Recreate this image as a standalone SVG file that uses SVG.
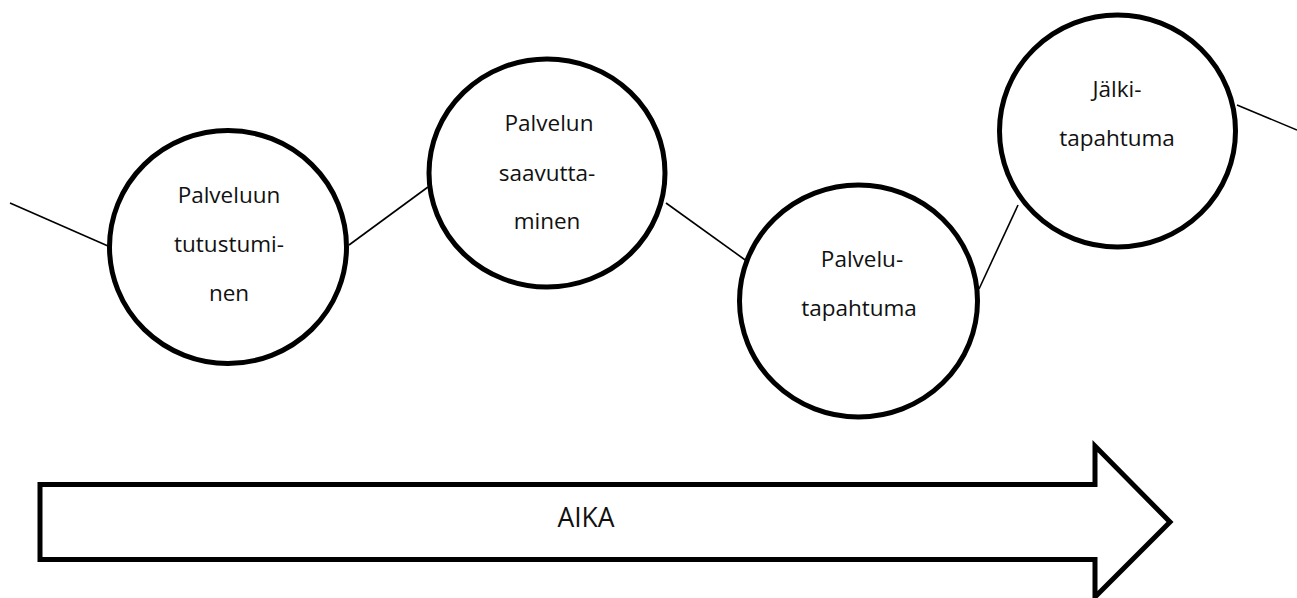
<svg xmlns="http://www.w3.org/2000/svg" width="1297" height="598" viewBox="0 0 1297 598">
<style>
.node{fill:#fff;stroke:#000;stroke-width:5}
.lbl{font-family:"Open Sans","Liberation Sans",sans-serif;font-size:22.5px;fill:#111;text-anchor:middle}
.conn line{stroke:#000;stroke-width:1.6}
</style>
<rect width="1297" height="598" fill="#fff"/>
<g id="connectors" class="conn">
<line x1="10" y1="203" x2="108" y2="246"/>
<line x1="349" y1="245" x2="428" y2="187"/>
<line x1="666" y1="203" x2="748" y2="262"/>
<line x1="979" y1="289" x2="1018" y2="205"/>
<line x1="1237" y1="105" x2="1297" y2="130"/>
</g>
<g id="node1">
<ellipse class="node" cx="228" cy="247" rx="118.5" ry="116.5"/>
<text class="lbl" x="229" y="203">Palveluun</text>
<text class="lbl" x="229" y="252">tutustumi-</text>
<text class="lbl" x="229" y="301">nen</text>
</g>
<g id="node2">
<ellipse class="node" cx="547" cy="173" rx="118" ry="114"/>
<text class="lbl" x="549" y="131">Palvelun</text>
<text class="lbl" x="547" y="181">saavutta-</text>
<text class="lbl" x="547" y="229">minen</text>
</g>
<g id="node3">
<ellipse class="node" cx="858.5" cy="301" rx="119" ry="116"/>
<text class="lbl" x="862" y="267">Palvelu-</text>
<text class="lbl" x="859" y="316">tapahtuma</text>
</g>
<g id="node4">
<ellipse class="node" cx="1117.5" cy="131" rx="118" ry="116"/>
<text class="lbl" x="1117" y="97">Jälki-</text>
<text class="lbl" x="1117" y="146">tapahtuma</text>
</g>
<g id="arrow">
<polygon points="40,484.5 1095,484.5 1095,446 1170,522 1095,597 1095,559.5 40,559.5" fill="#fff" stroke="#000" stroke-width="5"/>
<text x="586" y="527" style="font-family:'Open Sans','Liberation Sans',sans-serif;font-size:26.5px;fill:#111;text-anchor:middle">AIKA</text>
</g>
</svg>
